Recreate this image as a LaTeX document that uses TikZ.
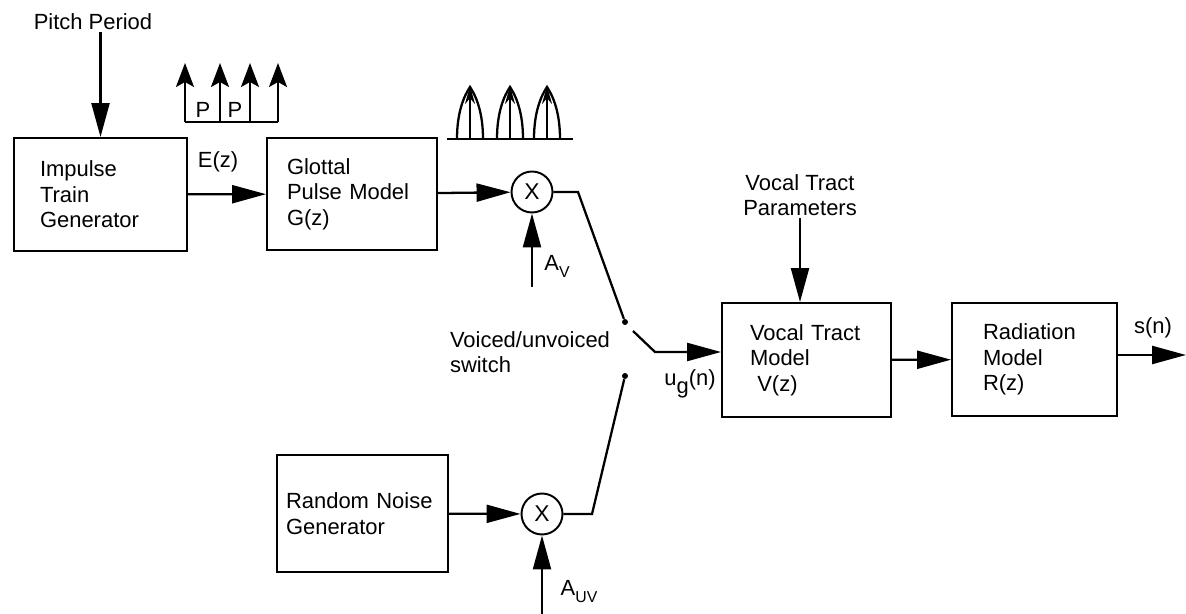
\documentclass[tikz,border=0pt]{standalone}
\usepackage{fontspec}
\setmainfont{Liberation Sans}
\usetikzlibrary{arrows.meta,positioning,shapes.geometric}

\begin{document}
\begin{tikzpicture}[
    x=0.02cm, y=-0.02cm,
    blk/.style={draw, line width=1.1pt, align=left, font=\fontsize{12.5}{14.5}\selectfont},
    mul/.style={draw, circle, line width=1.1pt, minimum size=0.82cm, inner sep=0pt, font=\fontsize{13}{15}\selectfont},
    lbl/.style={align=left, inner sep=1pt, font=\fontsize{12.5}{14.5}\selectfont},
    sig/.style={line width=1.3pt},
    arr/.style={line width=1.3pt, -{Triangle[length=0.68cm,width=0.36cm]}},
    imp/.style={line width=1.2pt, -{Stealth[length=0.48cm,width=0.36cm,inset=0.1cm]}},
    contact/.style={circle, fill, inner sep=0pt, minimum size=0.12cm}
]
\useasboundingbox (0,0) rectangle (1186,614);

\node[blk, text width=2.42cm, inner xsep=0.52cm, minimum height=2.26cm] (itg) at (100.5,194.5) {Impulse\\ Train\\ Generator};
\node[blk, text width=2.6cm, inner xsep=0.4cm, minimum height=2.24cm] (gpm) at (352,194) {Glottal\\ Pulse Model\\ G(z)};
\node[blk, text width=3.06cm, inner xsep=0.18cm, minimum height=2.34cm] (rng) at (362.5,513.5) {Random Noise\\ Generator};
\node[blk, text width=2.26cm, inner xsep=0.56cm, minimum height=2.28cm] (vtm) at (806.5,360) {Vocal Tract\\ Model\\ \ V(z)};
\node[blk, text width=2.06cm, inner xsep=0.62cm, minimum height=2.26cm] (rad) at (1034.5,359.5) {Radiation\\ Model\\ R(z)};

\node[mul] (mulv) at (532,192) {X};
\node[mul] (mulu) at (542,514) {X};

\node[lbl] (pitch) at (93,22) {Pitch Period};
\node[lbl] (ez) at (218,162) {E(z)};
\node[lbl, align=center] (vtp) at (800,195) {Vocal Tract\\ Parameters};
\node[lbl] (avlbl) at (557,266) {A\raisebox{-0.6ex}{\small V}};
\node[lbl] (auvlbl) at (579,592) {A\raisebox{-0.6ex}{\small UV}};
\node[lbl] (swlbl) at (530,352) {Voiced/unvoiced\\ switch};
\node[lbl] (uglbl) at (690,384) {u\raisebox{-0.7ex}{g}(n)};
\node[lbl] (snlbl) at (1153,328) {s(n)};

% switch
\node[contact] (swv) at (625,322) {};
\node[contact] (swu) at (625,376) {};
\coordinate (blade) at (633,331);
\coordinate (pivot) at (655,352);
\coordinate (kv) at (578,192);
\coordinate (ku) at (592,514);
\coordinate (av) at (532,287);
\coordinate (auv) at (542,614);
\coordinate (sout) at (1186,355);

\draw[arr] (itg.north |- pitch.south) -- (itg.north);
\draw[arr] (itg) -- (gpm);
\draw[arr] (gpm) -- (mulv);
\draw[arr] (av) -- (mulv.south);
\draw[sig] (mulv.east) -- (kv) -- (swv);
\draw[arr] (rng) -- (mulu);
\draw[arr] (auv) -- (mulu.south);
\draw[sig] (mulu.east) -- (ku) -- (swu);
\draw[arr] (blade) -- (pivot) -- (pivot -| vtm.west);
\draw[arr] (vtp.south) -- (vtp.south |- vtm.north);
\draw[arr] (vtm) -- (rad);
\draw[arr] (rad.east |- sout) -- (sout);

% impulse train
\draw[line width=1.1pt] (185,122) -- (278,122);
\draw[imp] (185,122) -- (185,63);
\draw[imp] (220,122) -- (220,63);
\draw[imp] (250,122) -- (250,63);
\draw[imp] (278,122) -- (278,63);
\node[lbl] (p1) at (203,110) {P};
\node[lbl] (p2) at (235,110) {P};

% glottal pulses
\draw[line width=1.2pt] (447,139) -- (573,139);
\draw[line width=1.3pt] (457,139) .. controls (457,112) and (464,96) .. (470,87) .. controls (476,96) and (483,112) .. (483,139);
\draw[line width=1.3pt] (497,139) .. controls (497,112) and (504,96) .. (510,87) .. controls (516,96) and (523,112) .. (523,139);
\draw[line width=1.3pt] (534,139) .. controls (534,112) and (541,96) .. (547,87) .. controls (553,96) and (560,112) .. (560,139);
\draw[line width=1.1pt, -{Stealth[length=0.36cm,width=0.2cm]}] (470,139) -- (470,86);
\draw[line width=1.1pt, -{Stealth[length=0.36cm,width=0.2cm]}] (510,139) -- (510,86);
\draw[line width=1.1pt, -{Stealth[length=0.36cm,width=0.2cm]}] (547,139) -- (547,86);
\end{tikzpicture}
\end{document}
